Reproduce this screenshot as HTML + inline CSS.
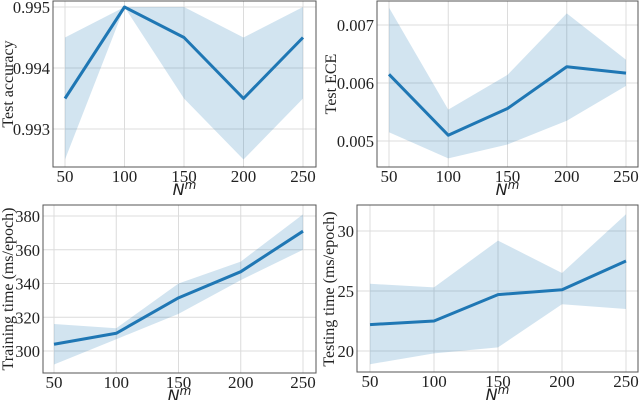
<!DOCTYPE html>
<html><head><meta charset="utf-8"><style>
body{margin:0;background:#fff;}
svg{display:block;font-family:"Liberation Serif",serif;}
</style></head><body>
<svg id="fig" width="640" height="400" viewBox="0 0 640 400" xmlns="http://www.w3.org/2000/svg"></svg>
<script>
const categories=[50,100,150,200,250];
const accMean=[0.9935,0.995,0.9945,0.9935,0.9945];
const accUpper=[0.9945,0.995,0.995,0.9945,0.995];
const accLower=[0.9925,0.995,0.9935,0.9925,0.9935];
const accTicks=[0.993,0.994,0.995];
const eceMean=[0.00615,0.0051,0.00556,0.00628,0.00617];
const eceUpper=[0.0073,0.00554,0.00614,0.0072,0.0064];
const eceLower=[0.00515,0.0047,0.00494,0.00535,0.00595];
const eceTicks=[0.005,0.006,0.007];
const trainMean=[304,310.5,331.5,347,371];
const trainUpper=[316,313.5,340,353,381];
const trainLower=[292,307,322,342,360];
const trainTicks=[300,320,340,360,380];
const testMean=[22.2,22.5,24.7,25.1,27.5];
const testUpper=[25.6,25.3,29.2,26.5,31.4];
const testLower=[18.9,19.8,20.3,23.9,23.5];
const testTicks=[20,25,30];

const NS="http://www.w3.org/2000/svg";
const fig=document.getElementById('fig');
function mk(tag,attrs,parent){const e=document.createElementNS(NS,tag);for(const k in attrs)e.setAttribute(k,attrs[k]);parent.appendChild(e);return e;}

const panels=[
 {name:'test-accuracy',box:[53,1,316,167],x0:65,x1:303,yv:[0.994,0.995],yp:[68,7],ticks:accTicks,fmt:v=>v.toFixed(3),mean:accMean,up:accUpper,lo:accLower,label:'Test accuracy',lx:13,ly:84},
 {name:'test-ece',box:[377,1,638,167],x0:389,x1:626,yv:[0.006,0.007],yp:[83,25],ticks:eceTicks,fmt:v=>v.toFixed(3),mean:eceMean,up:eceUpper,lo:eceLower,label:'Test ECE',lx:336,ly:84},
 {name:'training-time',box:[43,205,316,373],x0:54,x1:303,yv:[300,380],yp:[351,216],ticks:trainTicks,fmt:v=>String(v),mean:trainMean,up:trainUpper,lo:trainLower,label:'Training time (ms/epoch)',lx:13,ly:289},
 {name:'testing-time',box:[357,205,638,372],x0:370,x1:626,yv:[20,25],yp:[351,291],ticks:testTicks,fmt:v=>String(v),mean:testMean,up:testUpper,lo:testLower,label:'Testing time (ms/epoch)',lx:334,ly:289}
];

panels.forEach(p=>{
 const g=mk('g',{},fig);
 
 
 const [L,T,R,B]=p.box;
 const xs=v=>p.x0+(v-categories[0])/(categories[categories.length-1]-categories[0])*(p.x1-p.x0);
 const ys=v=>p.yp[0]+(v-p.yv[0])/(p.yv[1]-p.yv[0])*(p.yp[1]-p.yp[0]);
 categories.forEach(c=>{const l=mk('line',{x1:xs(c),x2:xs(c),y1:T,y2:B,stroke:'#dcdcdc','stroke-width':1},g);});
 p.ticks.forEach(t=>{const l=mk('line',{x1:L,x2:R,y1:ys(t),y2:ys(t),stroke:'#dcdcdc','stroke-width':1},g);});
 let pts=categories.map((c,i)=>xs(c)+','+ys(p.up[i]));
 pts=pts.concat(categories.map((c,i)=>xs(c)+','+ys(p.lo[i])).reverse());
 const band=mk('polygon',{points:pts.join(' '),fill:'#1f77b4','fill-opacity':0.2},g);
 
 
 const line=mk('polyline',{points:categories.map((c,i)=>xs(c)+','+ys(p.mean[i])).join(' '),fill:'none',stroke:'#1f77b4','stroke-width':3,'stroke-linejoin':'round'},g);
 
 
 const box=mk('rect',{x:L,y:T,width:R-L,height:B-T,fill:'none',stroke:'#555','stroke-width':1},g);
 
 
 categories.forEach(c=>{const t=mk('text',{x:xs(c),y:B+15,'text-anchor':'middle','font-size':17,fill:'#222'},g);t.textContent=c;});
 p.ticks.forEach(v=>{const t=mk('text',{x:L-3,y:ys(v)+6,'text-anchor':'end','font-size':16.5,fill:'#222'},g);t.textContent=p.fmt(v);});
 const xl=mk('text',{x:(L+R)/2,y:B+28,'text-anchor':'middle','font-size':16,'font-style':'italic','font-family':'DejaVu Sans, sans-serif',fill:'#222'},g);
 xl.innerHTML='N<tspan dy="-6" font-size="12">m</tspan>';
 
 
 const yl=mk('text',{x:p.lx,y:p.ly,'text-anchor':'middle','font-size':16,fill:'#222',transform:`rotate(-90 ${p.lx} ${p.ly})`},g);
 yl.textContent=p.label;
 
 
});
</script>
</body></html>
